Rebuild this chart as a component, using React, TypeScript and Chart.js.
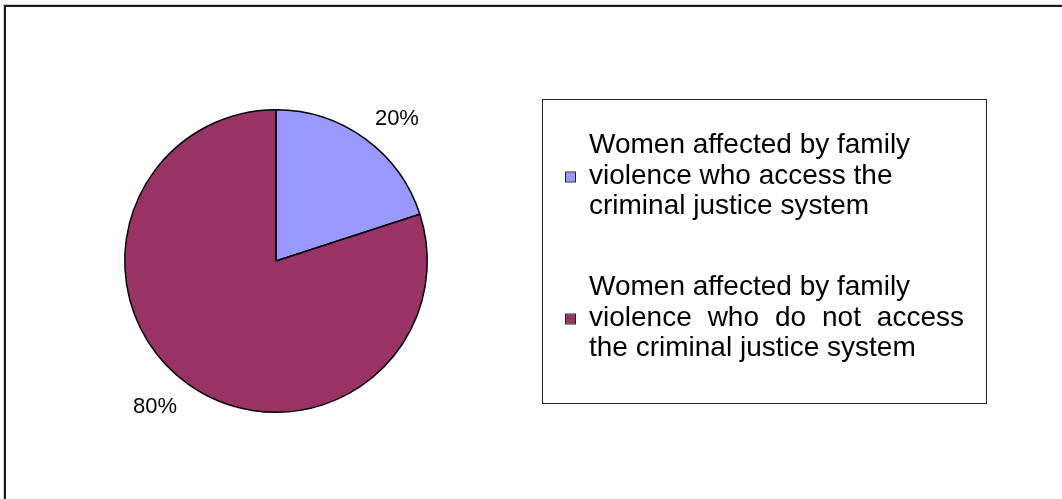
import React, { useEffect, useRef } from "react";
import { Chart, registerables } from "chart.js";

Chart.register(...registerables);

const categories = [
  "Women affected by family violence who access the criminal justice system",
  "Women affected by family violence who do not access the criminal justice system",
];
const legendLines = [
  ["Women affected by family", "violence who access the", "criminal justice system"],
  ["Women affected by family", "violence who do not access", "the criminal justice system"],
];
const justifiedLines = ["1-1"];
const values = [20, 80];
const percentLabels = ["20%", "80%"];
const colors = ["#9999FF", "#993366"];

const FONT = '"Liberation Sans", Arial, Helvetica, sans-serif';

const decorPlugin = {
  id: "decor",
  beforeDraw(chart: any) {
    const ctx = chart.ctx as CanvasRenderingContext2D;
    ctx.save();
    ctx.fillStyle = "#ffffff";
    ctx.fillRect(0, 0, chart.width, chart.height);
    ctx.strokeStyle = "#d0d0d0";
    ctx.lineWidth = 1;
    ctx.strokeRect(3.5, 4.5, 3000, 3000);
    ctx.strokeStyle = "#1a1a1a";
    ctx.lineWidth = 2;
    ctx.strokeRect(5, 6, 3000, 3000);
    ctx.restore();
  },
  afterDraw(chart: any) {
    const ctx = chart.ctx as CanvasRenderingContext2D;
    ctx.save();
    // percentage labels
    const meta = chart.getDatasetMeta(0);
    ctx.font = `22px ${FONT}`;
    ctx.fillStyle = "#000";
    ctx.textBaseline = "alphabetic";
    meta.data.forEach((arc: any, i: number) => {
      const p = arc.getProps(["x", "y", "startAngle", "endAngle", "outerRadius"], true);
      const mid = (p.startAngle + p.endAngle) / 2;
      const d = p.outerRadius + 17;
      const ax = p.x + Math.cos(mid) * d;
      const ay = p.y + Math.sin(mid) * d;
      ctx.textAlign = Math.cos(mid) >= 0 ? "left" : "right";
      const by = Math.sin(mid) < 0 ? ay : ay + 16;
      ctx.fillText(percentLabels[i], ax, by);
    });

    // legend box
    ctx.strokeStyle = "#222";
    ctx.lineWidth = 1;
    ctx.strokeRect(542.5, 99.5, 444, 304);

    const textX = 589;
    const rightX = 964;
    const lineH = 30.5;
    const firstBase = 153;
    const itemStep = 142;
    ctx.textAlign = "left";
    ctx.font = `28px ${FONT}`;
    legendLines.forEach((lines, i) => {
      const base = firstBase + i * itemStep;
      lines.forEach((line, j) => {
        const by = base + j * lineH;
        ctx.fillStyle = "#000";
        if (justifiedLines.includes(`${i}-${j}`)) {
          const words = line.split(" ");
          const widths = words.map((w) => ctx.measureText(w).width);
          const total = widths.reduce((a, b) => a + b, 0);
          const gap = (rightX - textX - total) / (words.length - 1);
          let x = textX;
          words.forEach((w, k) => {
            ctx.fillText(w, x, by);
            x += widths[k] + gap;
          });
        } else {
          ctx.fillText(line, textX, by);
        }
      });
      const my = base + lineH - 11;
      ctx.fillStyle = colors[i];
      ctx.fillRect(566, my, 9, 9);
      ctx.strokeStyle = "#222";
      ctx.lineWidth = 1;
      ctx.strokeRect(565.5, my - 0.5, 10, 10);
    });
    ctx.restore();
  },
};

export default function App() {
  const ref = useRef<HTMLCanvasElement | null>(null);
  useEffect(() => {
    if (!ref.current) return;
    const chart = new Chart(ref.current, {
      type: "pie",
      data: {
        labels: categories,
        datasets: [
          {
            data: values,
            backgroundColor: colors,
            borderColor: "#000",
            borderWidth: 1.5,
          },
        ],
      },
      options: {
        responsive: false,
        animation: false,
        devicePixelRatio: 1,
        layout: { padding: { left: 124, right: 634, top: 109, bottom: 86 } },
        plugins: {
          legend: { display: false },
          tooltip: { enabled: false },
          title: { display: false },
        },
      },
      plugins: [decorPlugin],
    });
    return () => chart.destroy();
  }, []);
  return (
    <div style={{ position: "absolute", left: 0, top: 0, width: 1062, height: 499, background: "#fff" }}>
      <canvas ref={ref} width={1062} height={499} style={{ width: 1062, height: 499, display: "block" }} />
    </div>
  );
}
